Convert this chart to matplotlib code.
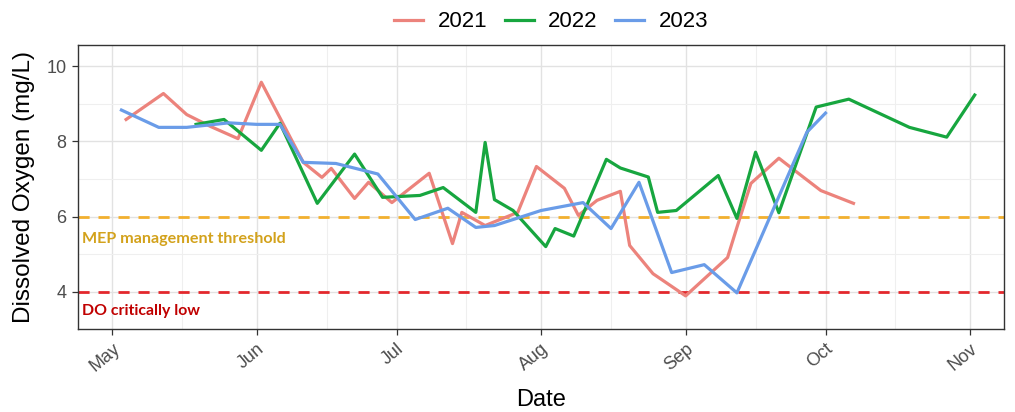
import matplotlib
matplotlib.use("Agg")
import matplotlib.pyplot as plt
import matplotlib.dates as mdates
import pandas as pd

plt.rcParams['font.family'] = ['Liberation Sans', 'DejaVu Sans']

# Sampling dates (month-day) and dissolved oxygen readings, mg/L
dates_2021 = ["05-04", "05-12", "05-17", "05-22", "05-28", "06-02", "06-11", "06-15",
              "06-17", "06-22", "06-25", "06-30", "07-08", "07-13", "07-15", "07-20",
              "07-27", "07-31", "08-06", "08-09", "08-13", "08-18", "08-20", "08-25",
              "09-01", "09-10", "09-12", "09-15", "09-21", "09-26", "09-30", "10-07"]
do_2021 = [8.58, 9.27, 8.71, 8.40, 8.07, 9.57, 7.44, 7.04,
           7.28, 6.48, 6.91, 6.37, 7.15, 5.28, 6.11, 5.76,
           6.11, 7.33, 6.75, 6.03, 6.43, 6.67, 5.23, 4.48,
           3.89, 4.91, 5.71, 6.88, 7.55, 7.07, 6.69, 6.35]

dates_2022 = ["05-19", "05-25", "06-02", "06-06", "06-14", "06-22", "06-28", "07-06",
              "07-11", "07-18", "07-20", "07-22", "07-26", "08-02", "08-04", "08-08",
              "08-15", "08-18", "08-24", "08-26", "08-30", "09-08", "09-12", "09-16",
              "09-21", "09-29", "10-06", "10-19", "10-27", "11-02"]
do_2022 = [8.45, 8.58, 7.76, 8.48, 6.35, 7.66, 6.51, 6.56,
           6.77, 6.11, 7.97, 6.45, 6.16, 5.20, 5.68, 5.48,
           7.52, 7.29, 7.05, 6.11, 6.16, 7.09, 5.95, 7.71,
           6.10, 8.91, 9.12, 8.37, 8.11, 9.23]

dates_2023 = ["05-03", "05-11", "05-17", "05-26", "06-01", "06-06", "06-11", "06-18",
              "06-27", "07-05", "07-12", "07-18", "07-22", "08-01", "08-10", "08-16",
              "08-22", "08-29", "09-05", "09-12", "09-27", "10-01"]
do_2023 = [8.83, 8.37, 8.37, 8.49, 8.45, 8.45, 7.44, 7.41,
           7.13, 5.92, 6.22, 5.71, 5.76, 6.16, 6.37, 5.68,
           6.91, 4.51, 4.72, 3.97, 8.24, 8.75]

years = ["2021", "2022", "2023"]
colors = ["#EC837C", "#17A63F", "#6A9CE8"]
MEP_THRESHOLD = 6
CRITICAL_LOW = 4


def to_dates(md):
    # put every year on the same calendar so the seasons line up
    return pd.to_datetime(["2023-" + d for d in md])


fig = plt.figure(figsize=(10.15, 4.12), dpi=100)
ax = fig.add_axes([0.0764, 0.2015, 0.9128, 0.6893])

series = [(dates_2021, do_2021), (dates_2022, do_2022), (dates_2023, do_2023)]
for (d, v), year, c in zip(series, years, colors):
    ax.plot(to_dates(d), v, color=c, linewidth=2.3, label=year, zorder=3)

# reference lines and their labels
ax.axhline(MEP_THRESHOLD, color="#F2B02E", linewidth=2, linestyle=(0, (4, 3.2)), zorder=2)
ax.axhline(CRITICAL_LOW, color="#E3282C", linewidth=2, linestyle=(0, (4, 3.2)), zorder=2)
x0 = pd.Timestamp("2023-04-24 15:00")
ax.text(x0, MEP_THRESHOLD - 0.6, "MEP management threshold", color="#D3A21C",
        fontsize=11.6, fontweight="bold", family=["Lato", "DejaVu Sans"], va="center")
ax.text(x0, CRITICAL_LOW - 0.5, "DO critically low", color="#C00000",
        fontsize=11.4, fontweight="bold", family=["Lato", "DejaVu Sans"], va="center")

# axes ranges and ticks
ax.set_xlim(pd.Timestamp("2023-04-23 14:00"), pd.Timestamp("2023-11-08 07:00"))
ax.set_ylim(3.01, 10.56)
ax.set_yticks([4, 6, 8, 10])
ax.set_yticks([5, 7, 9], minor=True)
ax.xaxis.set_major_locator(mdates.MonthLocator())
ax.xaxis.set_minor_locator(mdates.MonthLocator(bymonthday=16))
ax.xaxis.set_major_formatter(mdates.DateFormatter("%b"))
ax.tick_params(axis="both", which="major", labelsize=13, labelcolor="#4D4D4D",
               color="#333333", length=4.5, width=0.9)
ax.tick_params(axis="both", which="minor", length=0)
for lab in ax.get_xticklabels():
    lab.set_rotation(40)
    lab.set_ha("right")
    lab.set_va("top")
    lab.set_rotation_mode("anchor")

ax.grid(True, which="major", color="#E2E2E2", linewidth=1.0, zorder=0)
ax.grid(True, which="minor", color="#EFEFEF", linewidth=0.8, zorder=0)
for s in ax.spines.values():
    s.set_color("#333333")
    s.set_linewidth(1.0)

ax.set_xlabel("Date", fontsize=17, labelpad=10)
ax.set_ylabel("Dissolved Oxygen (mg/L)", fontsize=17.5, labelpad=8)

fig.legend(loc="center", bbox_to_anchor=(0.543, 0.947), ncol=3, frameon=False,
           fontsize=16, handlelength=1.3, handletextpad=0.65, columnspacing=0.8)

fig.savefig("out.png", dpi=100)
